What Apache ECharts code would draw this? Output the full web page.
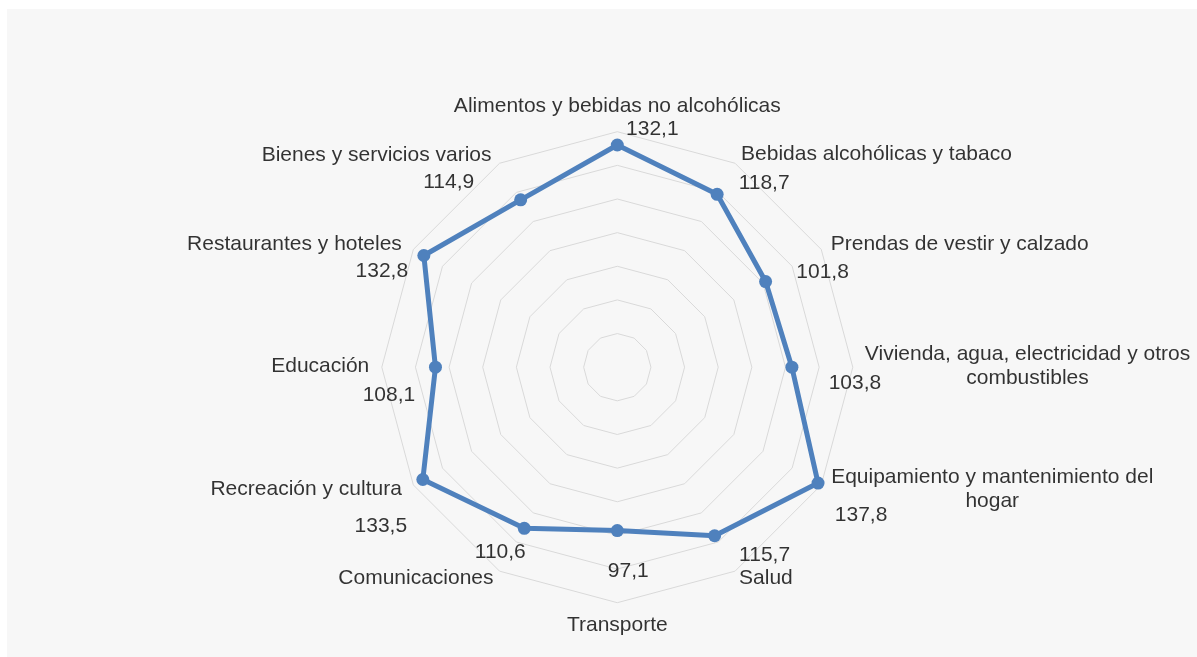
<!DOCTYPE html>
<html>
<head>
<meta charset="utf-8">
<script src="https://cdn.jsdelivr.net/npm/echarts@6/dist/echarts.min.js"></script>
<style>
  html, body { margin: 0; padding: 0; background: #ffffff; }
  #wrap { position: relative; width: 1197px; height: 657px; background: #ffffff; overflow: hidden; }
  #panel { position: absolute; left: 7px; top: 9px; width: 1190px; height: 648px; background: #f7f7f7; }
  #chart { position: absolute; left: 0; top: 0; width: 1197px; height: 657px; }
</style>
</head>
<body>
<div id="wrap"><div id="panel"></div><div id="chart"></div></div>
<script>
// Categories (clockwise from top)
const categories = [
  'Alimentos y bebidas no alcohólicas',
  'Bebidas alcohólicas y tabaco',
  'Prendas de vestir y calzado',
  'Vivienda, agua, electricidad y otros\ncombustibles',
  'Equipamiento y mantenimiento del\nhogar',
  'Salud',
  'Transporte',
  'Comunicaciones',
  'Recreación y cultura',
  'Educación',
  'Restaurantes y hoteles',
  'Bienes y servicios varios'
];
// Series values
const values = [132.1, 118.7, 101.8, 103.8, 137.8, 115.7, 97.1, 110.6, 133.5, 108.1, 132.8, 114.9];
// Axis range
const axisMin = 0;
const axisMax = 140;
const axisSplits = 7;

// Label placement styles (align, dx, dy in px)
const nameLabelStyle = [
  ['center', 0, -25],
  ['left', 6, -9],
  ['left', 9.5, -5.5],
  ['center', 174.7, -0.5],
  ['center', 171, 4],
  ['left', 4, 7],
  ['center', 0, 22.5],
  ['right', -6, 7],
  ['right', -11.5, 4.5],
  ['right', -12.5, -0.5],
  ['right', -11.5, -5.5],
  ['right', -8, -8]
];
const valueLabelOffset = [
  [35, -16], [47, -11], [57, -9], [63, 16], [43, 32], [50, 19],
  [11, 41], [-24, 24], [-42, 46.5], [-46.5, 28], [-42, 16], [-72, -18]
];

const CENTER = [617.3, 367.2];
const RADIUS = 235.5;
const FONT = 'Liberation Sans, Arial, Helvetica, sans-serif';
const BLUE = '#4f81bd';

// ECharts radar runs counter-clockwise; reorder so the picture runs clockwise.
const order = [0].concat(categories.map((_, i) => i).slice(1).reverse());
const radarIndicators = order.map(i => ({ name: categories[i], min: axisMin, max: axisMax }));
const radarValues = order.map(i => values[i]);

const chart = echarts.init(document.getElementById('chart'), null, { renderer: 'canvas' });
chart.setOption({
  backgroundColor: 'transparent',
  animation: false,
  radar: {
    center: CENTER,
    radius: RADIUS,
    startAngle: 90,
    shape: 'polygon',
    splitNumber: axisSplits,
    indicator: radarIndicators,
    axisName: { show: false },
    axisLine: { show: false },
    axisTick: { show: false },
    axisLabel: { show: false },
    splitArea: { show: false },
    splitLine: { lineStyle: { color: '#d9d9d9', width: 1 } }
  },
  polar: { center: CENTER, radius: RADIUS },
  angleAxis: {
    type: 'category', data: categories, boundaryGap: false,
    startAngle: 90, clockwise: true, show: false
  },
  radiusAxis: { type: 'value', min: axisMin, max: axisMax, show: false },
  series: [
    {
      type: 'radar',
      silent: true,
      symbol: 'circle',
      symbolSize: 13,
      lineStyle: { color: BLUE, width: 5 },
      itemStyle: { color: BLUE },
      data: [{ value: radarValues }]
    },
    {
      type: 'scatter',
      coordinateSystem: 'polar',
      silent: true,
      symbolSize: 0,
      z: 5,
      data: values.map((v, i) => ({
        value: [v, i],
        label: {
          show: true, position: 'inside', align: 'center', verticalAlign: 'middle',
          offset: valueLabelOffset[i],
          formatter: () => v.toFixed(1).replace('.', ','),
          color: '#000000', fontSize: 21, fontFamily: FONT
        }
      }))
    },
    {
      type: 'scatter',
      coordinateSystem: 'polar',
      silent: true,
      symbolSize: 0,
      z: 5,
      data: categories.map((c, i) => ({
        value: [axisMax, i],
        label: {
          show: true, position: 'inside',
          align: nameLabelStyle[i][0], verticalAlign: 'middle',
          offset: [nameLabelStyle[i][1], nameLabelStyle[i][2]],
          formatter: () => c,
          color: '#000000', fontSize: 21, lineHeight: 24, fontFamily: FONT
        }
      }))
    }
  ]
});
</script>
</body>
</html>
